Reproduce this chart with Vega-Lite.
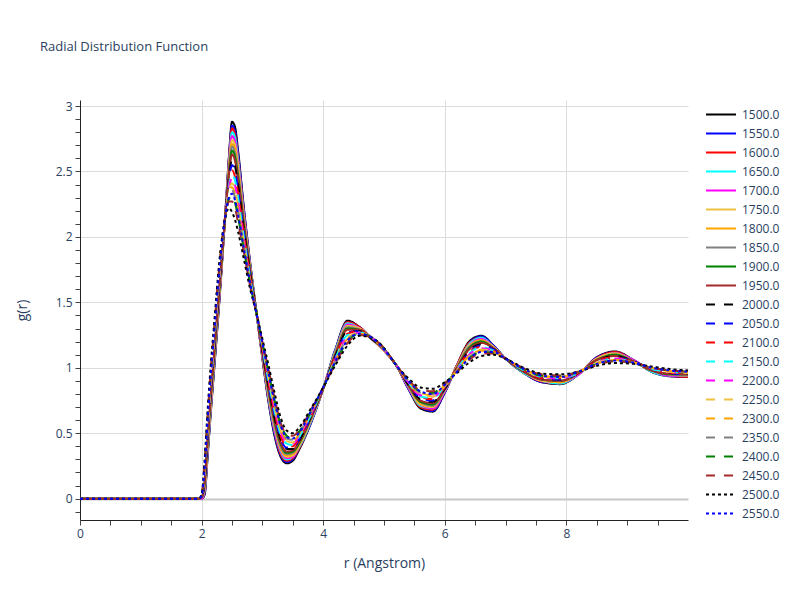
{
"$schema":"https://vega.github.io/schema/vega-lite/v6.json",
"autosize":{"type":"none"},
"width":608,"height":420,
"padding":{"left":80,"top":100,"right":112,"bottom":80},
"background":"white",
"config":{"view":{"stroke":null},"font":"Open Sans","axis":{"labelOverlap":false,"labelFlush":false}},
"title":{"text":"Radial Distribution Function","anchor":"start","frame":"group","dx":-40,"offset":36,"baseline":"alphabetic","fontSize":13,"fontWeight":"normal","color":"#2a3f5f","font":"Open Sans"},
"data":{"values":[
{"T":"1500.0","r":0,"g":0},{"T":"1500.0","r":1.95,"g":0},{"T":"1500.0","r":2,"g":0},{"T":"1500.0","r":2.05,"g":0.03},{"T":"1500.0","r":2.1,"g":0.33},{"T":"1500.0","r":2.15,"g":0.65},{"T":"1500.0","r":2.2,"g":0.95},{"T":"1500.0","r":2.3,"g":1.56},{"T":"1500.0","r":2.4,"g":2.25},{"T":"1500.0","r":2.45,"g":2.62},{"T":"1500.0","r":2.5,"g":2.88},{"T":"1500.0","r":2.55,"g":2.84},{"T":"1500.0","r":2.6,"g":2.66},{"T":"1500.0","r":2.7,"g":2.2},{"T":"1500.0","r":2.8,"g":1.8},{"T":"1500.0","r":2.9,"g":1.43},{"T":"1500.0","r":3,"g":1.07},{"T":"1500.0","r":3.1,"g":0.74},{"T":"1500.0","r":3.2,"g":0.48},{"T":"1500.0","r":3.3,"g":0.32},{"T":"1500.0","r":3.4,"g":0.27},{"T":"1500.0","r":3.5,"g":0.29},{"T":"1500.0","r":3.6,"g":0.37},{"T":"1500.0","r":3.8,"g":0.58},{"T":"1500.0","r":4,"g":0.84},{"T":"1500.0","r":4.2,"g":1.14},{"T":"1500.0","r":4.4,"g":1.36},{"T":"1500.0","r":4.6,"g":1.31},{"T":"1500.0","r":4.8,"g":1.22},{"T":"1500.0","r":5,"g":1.13},{"T":"1500.0","r":5.2,"g":1.02},{"T":"1500.0","r":5.4,"g":0.84},{"T":"1500.0","r":5.6,"g":0.69},{"T":"1500.0","r":5.8,"g":0.665},{"T":"1500.0","r":6,"g":0.81},{"T":"1500.0","r":6.2,"g":1.02},{"T":"1500.0","r":6.4,"g":1.2},{"T":"1500.0","r":6.6,"g":1.245},{"T":"1500.0","r":6.8,"g":1.17},{"T":"1500.0","r":7,"g":1.07},{"T":"1500.0","r":7.3,"g":0.96},{"T":"1500.0","r":7.6,"g":0.89},{"T":"1500.0","r":7.9,"g":0.875},{"T":"1500.0","r":8.2,"g":0.95},{"T":"1500.0","r":8.5,"g":1.08},{"T":"1500.0","r":8.8,"g":1.125},{"T":"1500.0","r":9.1,"g":1.06},{"T":"1500.0","r":9.4,"g":0.97},{"T":"1500.0","r":9.7,"g":0.935},{"T":"1500.0","r":10,"g":0.93},
{"T":"1550.0","r":0,"g":0},{"T":"1550.0","r":1.95,"g":0},{"T":"1550.0","r":2,"g":0},{"T":"1550.0","r":2.05,"g":0.04},{"T":"1550.0","r":2.1,"g":0.34},{"T":"1550.0","r":2.15,"g":0.67},{"T":"1550.0","r":2.2,"g":0.96},{"T":"1550.0","r":2.3,"g":1.57},{"T":"1550.0","r":2.4,"g":2.25},{"T":"1550.0","r":2.45,"g":2.6},{"T":"1550.0","r":2.5,"g":2.85},{"T":"1550.0","r":2.55,"g":2.81},{"T":"1550.0","r":2.6,"g":2.64},{"T":"1550.0","r":2.7,"g":2.19},{"T":"1550.0","r":2.8,"g":1.79},{"T":"1550.0","r":2.9,"g":1.43},{"T":"1550.0","r":3,"g":1.08},{"T":"1550.0","r":3.1,"g":0.75},{"T":"1550.0","r":3.2,"g":0.49},{"T":"1550.0","r":3.3,"g":0.33},{"T":"1550.0","r":3.4,"g":0.28},{"T":"1550.0","r":3.5,"g":0.3},{"T":"1550.0","r":3.6,"g":0.38},{"T":"1550.0","r":3.8,"g":0.58},{"T":"1550.0","r":4,"g":0.84},{"T":"1550.0","r":4.2,"g":1.14},{"T":"1550.0","r":4.4,"g":1.35},{"T":"1550.0","r":4.6,"g":1.31},{"T":"1550.0","r":4.8,"g":1.22},{"T":"1550.0","r":5,"g":1.13},{"T":"1550.0","r":5.2,"g":1.02},{"T":"1550.0","r":5.4,"g":0.84},{"T":"1550.0","r":5.6,"g":0.7},{"T":"1550.0","r":5.8,"g":0.67},{"T":"1550.0","r":6,"g":0.81},{"T":"1550.0","r":6.2,"g":1.02},{"T":"1550.0","r":6.4,"g":1.19},{"T":"1550.0","r":6.6,"g":1.24},{"T":"1550.0","r":6.8,"g":1.17},{"T":"1550.0","r":7,"g":1.07},{"T":"1550.0","r":7.3,"g":0.96},{"T":"1550.0","r":7.6,"g":0.89},{"T":"1550.0","r":7.9,"g":0.88},{"T":"1550.0","r":8.2,"g":0.95},{"T":"1550.0","r":8.5,"g":1.08},{"T":"1550.0","r":8.8,"g":1.12},{"T":"1550.0","r":9.1,"g":1.06},{"T":"1550.0","r":9.4,"g":0.97},{"T":"1550.0","r":9.7,"g":0.94},{"T":"1550.0","r":10,"g":0.93},
{"T":"1600.0","r":0,"g":0},{"T":"1600.0","r":1.95,"g":0},{"T":"1600.0","r":2,"g":0},{"T":"1600.0","r":2.05,"g":0.05},{"T":"1600.0","r":2.1,"g":0.36},{"T":"1600.0","r":2.15,"g":0.68},{"T":"1600.0","r":2.2,"g":0.98},{"T":"1600.0","r":2.3,"g":1.58},{"T":"1600.0","r":2.4,"g":2.24},{"T":"1600.0","r":2.45,"g":2.59},{"T":"1600.0","r":2.5,"g":2.83},{"T":"1600.0","r":2.55,"g":2.78},{"T":"1600.0","r":2.6,"g":2.61},{"T":"1600.0","r":2.7,"g":2.17},{"T":"1600.0","r":2.8,"g":1.78},{"T":"1600.0","r":2.9,"g":1.43},{"T":"1600.0","r":3,"g":1.08},{"T":"1600.0","r":3.1,"g":0.76},{"T":"1600.0","r":3.2,"g":0.51},{"T":"1600.0","r":3.3,"g":0.34},{"T":"1600.0","r":3.4,"g":0.29},{"T":"1600.0","r":3.5,"g":0.31},{"T":"1600.0","r":3.6,"g":0.38},{"T":"1600.0","r":3.8,"g":0.59},{"T":"1600.0","r":4,"g":0.84},{"T":"1600.0","r":4.2,"g":1.13},{"T":"1600.0","r":4.4,"g":1.35},{"T":"1600.0","r":4.6,"g":1.31},{"T":"1600.0","r":4.8,"g":1.22},{"T":"1600.0","r":5,"g":1.13},{"T":"1600.0","r":5.2,"g":1.02},{"T":"1600.0","r":5.4,"g":0.85},{"T":"1600.0","r":5.6,"g":0.7},{"T":"1600.0","r":5.8,"g":0.68},{"T":"1600.0","r":6,"g":0.82},{"T":"1600.0","r":6.2,"g":1.02},{"T":"1600.0","r":6.4,"g":1.19},{"T":"1600.0","r":6.6,"g":1.23},{"T":"1600.0","r":6.8,"g":1.16},{"T":"1600.0","r":7,"g":1.07},{"T":"1600.0","r":7.3,"g":0.96},{"T":"1600.0","r":7.6,"g":0.895},{"T":"1600.0","r":7.9,"g":0.88},{"T":"1600.0","r":8.2,"g":0.95},{"T":"1600.0","r":8.5,"g":1.075},{"T":"1600.0","r":8.8,"g":1.12},{"T":"1600.0","r":9.1,"g":1.06},{"T":"1600.0","r":9.4,"g":0.97},{"T":"1600.0","r":9.7,"g":0.94},{"T":"1600.0","r":10,"g":0.93},
{"T":"1650.0","r":0,"g":0},{"T":"1650.0","r":1.95,"g":0},{"T":"1650.0","r":2,"g":0},{"T":"1650.0","r":2.05,"g":0.06},{"T":"1650.0","r":2.1,"g":0.37},{"T":"1650.0","r":2.15,"g":0.69},{"T":"1650.0","r":2.2,"g":0.99},{"T":"1650.0","r":2.3,"g":1.6},{"T":"1650.0","r":2.4,"g":2.24},{"T":"1650.0","r":2.45,"g":2.57},{"T":"1650.0","r":2.5,"g":2.8},{"T":"1650.0","r":2.55,"g":2.76},{"T":"1650.0","r":2.6,"g":2.59},{"T":"1650.0","r":2.7,"g":2.15},{"T":"1650.0","r":2.8,"g":1.78},{"T":"1650.0","r":2.9,"g":1.43},{"T":"1650.0","r":3,"g":1.09},{"T":"1650.0","r":3.1,"g":0.77},{"T":"1650.0","r":3.2,"g":0.52},{"T":"1650.0","r":3.3,"g":0.36},{"T":"1650.0","r":3.4,"g":0.3},{"T":"1650.0","r":3.5,"g":0.32},{"T":"1650.0","r":3.6,"g":0.39},{"T":"1650.0","r":3.8,"g":0.59},{"T":"1650.0","r":4,"g":0.84},{"T":"1650.0","r":4.2,"g":1.13},{"T":"1650.0","r":4.4,"g":1.34},{"T":"1650.0","r":4.6,"g":1.3},{"T":"1650.0","r":4.8,"g":1.22},{"T":"1650.0","r":5,"g":1.13},{"T":"1650.0","r":5.2,"g":1.02},{"T":"1650.0","r":5.4,"g":0.85},{"T":"1650.0","r":5.6,"g":0.71},{"T":"1650.0","r":5.8,"g":0.69},{"T":"1650.0","r":6,"g":0.82},{"T":"1650.0","r":6.2,"g":1.01},{"T":"1650.0","r":6.4,"g":1.18},{"T":"1650.0","r":6.6,"g":1.23},{"T":"1650.0","r":6.8,"g":1.16},{"T":"1650.0","r":7,"g":1.07},{"T":"1650.0","r":7.3,"g":0.96},{"T":"1650.0","r":7.6,"g":0.9},{"T":"1650.0","r":7.9,"g":0.88},{"T":"1650.0","r":8.2,"g":0.95},{"T":"1650.0","r":8.5,"g":1.07},{"T":"1650.0","r":8.8,"g":1.11},{"T":"1650.0","r":9.1,"g":1.06},{"T":"1650.0","r":9.4,"g":0.97},{"T":"1650.0","r":9.7,"g":0.94},{"T":"1650.0","r":10,"g":0.94},
{"T":"1700.0","r":0,"g":0},{"T":"1700.0","r":1.95,"g":0},{"T":"1700.0","r":2,"g":0},{"T":"1700.0","r":2.05,"g":0.07},{"T":"1700.0","r":2.1,"g":0.39},{"T":"1700.0","r":2.15,"g":0.71},{"T":"1700.0","r":2.2,"g":1.01},{"T":"1700.0","r":2.3,"g":1.61},{"T":"1700.0","r":2.4,"g":2.24},{"T":"1700.0","r":2.45,"g":2.56},{"T":"1700.0","r":2.5,"g":2.77},{"T":"1700.0","r":2.55,"g":2.73},{"T":"1700.0","r":2.6,"g":2.56},{"T":"1700.0","r":2.7,"g":2.14},{"T":"1700.0","r":2.8,"g":1.77},{"T":"1700.0","r":2.9,"g":1.43},{"T":"1700.0","r":3,"g":1.09},{"T":"1700.0","r":3.1,"g":0.79},{"T":"1700.0","r":3.2,"g":0.53},{"T":"1700.0","r":3.3,"g":0.37},{"T":"1700.0","r":3.4,"g":0.31},{"T":"1700.0","r":3.5,"g":0.32},{"T":"1700.0","r":3.6,"g":0.4},{"T":"1700.0","r":3.8,"g":0.6},{"T":"1700.0","r":4,"g":0.84},{"T":"1700.0","r":4.2,"g":1.12},{"T":"1700.0","r":4.4,"g":1.33},{"T":"1700.0","r":4.6,"g":1.3},{"T":"1700.0","r":4.8,"g":1.22},{"T":"1700.0","r":5,"g":1.13},{"T":"1700.0","r":5.2,"g":1.02},{"T":"1700.0","r":5.4,"g":0.85},{"T":"1700.0","r":5.6,"g":0.72},{"T":"1700.0","r":5.8,"g":0.69},{"T":"1700.0","r":6,"g":0.82},{"T":"1700.0","r":6.2,"g":1.01},{"T":"1700.0","r":6.4,"g":1.17},{"T":"1700.0","r":6.6,"g":1.22},{"T":"1700.0","r":6.8,"g":1.16},{"T":"1700.0","r":7,"g":1.07},{"T":"1700.0","r":7.3,"g":0.97},{"T":"1700.0","r":7.6,"g":0.9},{"T":"1700.0","r":7.9,"g":0.89},{"T":"1700.0","r":8.2,"g":0.95},{"T":"1700.0","r":8.5,"g":1.07},{"T":"1700.0","r":8.8,"g":1.11},{"T":"1700.0","r":9.1,"g":1.06},{"T":"1700.0","r":9.4,"g":0.98},{"T":"1700.0","r":9.7,"g":0.94},{"T":"1700.0","r":10,"g":0.94},
{"T":"1750.0","r":0,"g":0},{"T":"1750.0","r":1.95,"g":0},{"T":"1750.0","r":2,"g":0.01},{"T":"1750.0","r":2.05,"g":0.08},{"T":"1750.0","r":2.1,"g":0.4},{"T":"1750.0","r":2.15,"g":0.72},{"T":"1750.0","r":2.2,"g":1.02},{"T":"1750.0","r":2.3,"g":1.62},{"T":"1750.0","r":2.4,"g":2.23},{"T":"1750.0","r":2.45,"g":2.54},{"T":"1750.0","r":2.5,"g":2.74},{"T":"1750.0","r":2.55,"g":2.7},{"T":"1750.0","r":2.6,"g":2.54},{"T":"1750.0","r":2.7,"g":2.12},{"T":"1750.0","r":2.8,"g":1.76},{"T":"1750.0","r":2.9,"g":1.43},{"T":"1750.0","r":3,"g":1.1},{"T":"1750.0","r":3.1,"g":0.8},{"T":"1750.0","r":3.2,"g":0.55},{"T":"1750.0","r":3.3,"g":0.38},{"T":"1750.0","r":3.4,"g":0.32},{"T":"1750.0","r":3.5,"g":0.33},{"T":"1750.0","r":3.6,"g":0.4},{"T":"1750.0","r":3.8,"g":0.6},{"T":"1750.0","r":4,"g":0.84},{"T":"1750.0","r":4.2,"g":1.12},{"T":"1750.0","r":4.4,"g":1.32},{"T":"1750.0","r":4.6,"g":1.3},{"T":"1750.0","r":4.8,"g":1.22},{"T":"1750.0","r":5,"g":1.13},{"T":"1750.0","r":5.2,"g":1.02},{"T":"1750.0","r":5.4,"g":0.86},{"T":"1750.0","r":5.6,"g":0.72},{"T":"1750.0","r":5.8,"g":0.7},{"T":"1750.0","r":6,"g":0.83},{"T":"1750.0","r":6.2,"g":1.01},{"T":"1750.0","r":6.4,"g":1.17},{"T":"1750.0","r":6.6,"g":1.21},{"T":"1750.0","r":6.8,"g":1.16},{"T":"1750.0","r":7,"g":1.07},{"T":"1750.0","r":7.3,"g":0.97},{"T":"1750.0","r":7.6,"g":0.9},{"T":"1750.0","r":7.9,"g":0.89},{"T":"1750.0","r":8.2,"g":0.96},{"T":"1750.0","r":8.5,"g":1.07},{"T":"1750.0","r":8.8,"g":1.11},{"T":"1750.0","r":9.1,"g":1.05},{"T":"1750.0","r":9.4,"g":0.98},{"T":"1750.0","r":9.7,"g":0.95},{"T":"1750.0","r":10,"g":0.94},
{"T":"1800.0","r":0,"g":0},{"T":"1800.0","r":1.95,"g":0},{"T":"1800.0","r":2,"g":0.01},{"T":"1800.0","r":2.05,"g":0.1},{"T":"1800.0","r":2.1,"g":0.41},{"T":"1800.0","r":2.15,"g":0.74},{"T":"1800.0","r":2.2,"g":1.03},{"T":"1800.0","r":2.3,"g":1.63},{"T":"1800.0","r":2.4,"g":2.23},{"T":"1800.0","r":2.45,"g":2.52},{"T":"1800.0","r":2.5,"g":2.71},{"T":"1800.0","r":2.55,"g":2.67},{"T":"1800.0","r":2.6,"g":2.51},{"T":"1800.0","r":2.7,"g":2.11},{"T":"1800.0","r":2.8,"g":1.75},{"T":"1800.0","r":2.9,"g":1.43},{"T":"1800.0","r":3,"g":1.11},{"T":"1800.0","r":3.1,"g":0.81},{"T":"1800.0","r":3.2,"g":0.56},{"T":"1800.0","r":3.3,"g":0.39},{"T":"1800.0","r":3.4,"g":0.33},{"T":"1800.0","r":3.5,"g":0.34},{"T":"1800.0","r":3.6,"g":0.41},{"T":"1800.0","r":3.8,"g":0.61},{"T":"1800.0","r":4,"g":0.84},{"T":"1800.0","r":4.2,"g":1.11},{"T":"1800.0","r":4.4,"g":1.31},{"T":"1800.0","r":4.6,"g":1.29},{"T":"1800.0","r":4.8,"g":1.22},{"T":"1800.0","r":5,"g":1.14},{"T":"1800.0","r":5.2,"g":1.02},{"T":"1800.0","r":5.4,"g":0.86},{"T":"1800.0","r":5.6,"g":0.73},{"T":"1800.0","r":5.8,"g":0.71},{"T":"1800.0","r":6,"g":0.83},{"T":"1800.0","r":6.2,"g":1.01},{"T":"1800.0","r":6.4,"g":1.16},{"T":"1800.0","r":6.6,"g":1.21},{"T":"1800.0","r":6.8,"g":1.15},{"T":"1800.0","r":7,"g":1.07},{"T":"1800.0","r":7.3,"g":0.97},{"T":"1800.0","r":7.6,"g":0.91},{"T":"1800.0","r":7.9,"g":0.89},{"T":"1800.0","r":8.2,"g":0.96},{"T":"1800.0","r":8.5,"g":1.06},{"T":"1800.0","r":8.8,"g":1.1},{"T":"1800.0","r":9.1,"g":1.05},{"T":"1800.0","r":9.4,"g":0.98},{"T":"1800.0","r":9.7,"g":0.95},{"T":"1800.0","r":10,"g":0.94},
{"T":"1850.0","r":0,"g":0},{"T":"1850.0","r":1.95,"g":0},{"T":"1850.0","r":2,"g":0.01},{"T":"1850.0","r":2.05,"g":0.11},{"T":"1850.0","r":2.1,"g":0.43},{"T":"1850.0","r":2.15,"g":0.75},{"T":"1850.0","r":2.2,"g":1.05},{"T":"1850.0","r":2.3,"g":1.64},{"T":"1850.0","r":2.4,"g":2.23},{"T":"1850.0","r":2.45,"g":2.51},{"T":"1850.0","r":2.5,"g":2.69},{"T":"1850.0","r":2.55,"g":2.64},{"T":"1850.0","r":2.6,"g":2.49},{"T":"1850.0","r":2.7,"g":2.09},{"T":"1850.0","r":2.8,"g":1.74},{"T":"1850.0","r":2.9,"g":1.43},{"T":"1850.0","r":3,"g":1.11},{"T":"1850.0","r":3.1,"g":0.82},{"T":"1850.0","r":3.2,"g":0.57},{"T":"1850.0","r":3.3,"g":0.4},{"T":"1850.0","r":3.4,"g":0.34},{"T":"1850.0","r":3.5,"g":0.35},{"T":"1850.0","r":3.6,"g":0.42},{"T":"1850.0","r":3.8,"g":0.61},{"T":"1850.0","r":4,"g":0.84},{"T":"1850.0","r":4.2,"g":1.11},{"T":"1850.0","r":4.4,"g":1.31},{"T":"1850.0","r":4.6,"g":1.29},{"T":"1850.0","r":4.8,"g":1.22},{"T":"1850.0","r":5,"g":1.14},{"T":"1850.0","r":5.2,"g":1.02},{"T":"1850.0","r":5.4,"g":0.86},{"T":"1850.0","r":5.6,"g":0.74},{"T":"1850.0","r":5.8,"g":0.71},{"T":"1850.0","r":6,"g":0.83},{"T":"1850.0","r":6.2,"g":1},{"T":"1850.0","r":6.4,"g":1.16},{"T":"1850.0","r":6.6,"g":1.2},{"T":"1850.0","r":6.8,"g":1.15},{"T":"1850.0","r":7,"g":1.07},{"T":"1850.0","r":7.3,"g":0.97},{"T":"1850.0","r":7.6,"g":0.91},{"T":"1850.0","r":7.9,"g":0.9},{"T":"1850.0","r":8.2,"g":0.96},{"T":"1850.0","r":8.5,"g":1.06},{"T":"1850.0","r":8.8,"g":1.1},{"T":"1850.0","r":9.1,"g":1.05},{"T":"1850.0","r":9.4,"g":0.98},{"T":"1850.0","r":9.7,"g":0.95},{"T":"1850.0","r":10,"g":0.94},
{"T":"1900.0","r":0,"g":0},{"T":"1900.0","r":1.95,"g":0},{"T":"1900.0","r":2,"g":0.01},{"T":"1900.0","r":2.05,"g":0.12},{"T":"1900.0","r":2.1,"g":0.44},{"T":"1900.0","r":2.15,"g":0.77},{"T":"1900.0","r":2.2,"g":1.06},{"T":"1900.0","r":2.3,"g":1.65},{"T":"1900.0","r":2.4,"g":2.22},{"T":"1900.0","r":2.45,"g":2.49},{"T":"1900.0","r":2.5,"g":2.66},{"T":"1900.0","r":2.55,"g":2.61},{"T":"1900.0","r":2.6,"g":2.46},{"T":"1900.0","r":2.7,"g":2.08},{"T":"1900.0","r":2.8,"g":1.74},{"T":"1900.0","r":2.9,"g":1.43},{"T":"1900.0","r":3,"g":1.12},{"T":"1900.0","r":3.1,"g":0.83},{"T":"1900.0","r":3.2,"g":0.59},{"T":"1900.0","r":3.3,"g":0.42},{"T":"1900.0","r":3.4,"g":0.35},{"T":"1900.0","r":3.5,"g":0.36},{"T":"1900.0","r":3.6,"g":0.42},{"T":"1900.0","r":3.8,"g":0.62},{"T":"1900.0","r":4,"g":0.84},{"T":"1900.0","r":4.2,"g":1.1},{"T":"1900.0","r":4.4,"g":1.3},{"T":"1900.0","r":4.6,"g":1.29},{"T":"1900.0","r":4.8,"g":1.22},{"T":"1900.0","r":5,"g":1.14},{"T":"1900.0","r":5.2,"g":1.02},{"T":"1900.0","r":5.4,"g":0.87},{"T":"1900.0","r":5.6,"g":0.74},{"T":"1900.0","r":5.8,"g":0.72},{"T":"1900.0","r":6,"g":0.84},{"T":"1900.0","r":6.2,"g":1},{"T":"1900.0","r":6.4,"g":1.15},{"T":"1900.0","r":6.6,"g":1.2},{"T":"1900.0","r":6.8,"g":1.15},{"T":"1900.0","r":7,"g":1.07},{"T":"1900.0","r":7.3,"g":0.97},{"T":"1900.0","r":7.6,"g":0.91},{"T":"1900.0","r":7.9,"g":0.9},{"T":"1900.0","r":8.2,"g":0.96},{"T":"1900.0","r":8.5,"g":1.06},{"T":"1900.0","r":8.8,"g":1.1},{"T":"1900.0","r":9.1,"g":1.05},{"T":"1900.0","r":9.4,"g":0.98},{"T":"1900.0","r":9.7,"g":0.95},{"T":"1900.0","r":10,"g":0.95},
{"T":"1950.0","r":0,"g":0},{"T":"1950.0","r":1.95,"g":0},{"T":"1950.0","r":2,"g":0.01},{"T":"1950.0","r":2.05,"g":0.13},{"T":"1950.0","r":2.1,"g":0.46},{"T":"1950.0","r":2.15,"g":0.78},{"T":"1950.0","r":2.2,"g":1.08},{"T":"1950.0","r":2.3,"g":1.66},{"T":"1950.0","r":2.4,"g":2.22},{"T":"1950.0","r":2.45,"g":2.48},{"T":"1950.0","r":2.5,"g":2.63},{"T":"1950.0","r":2.55,"g":2.58},{"T":"1950.0","r":2.6,"g":2.44},{"T":"1950.0","r":2.7,"g":2.06},{"T":"1950.0","r":2.8,"g":1.73},{"T":"1950.0","r":2.9,"g":1.43},{"T":"1950.0","r":3,"g":1.12},{"T":"1950.0","r":3.1,"g":0.84},{"T":"1950.0","r":3.2,"g":0.6},{"T":"1950.0","r":3.3,"g":0.43},{"T":"1950.0","r":3.4,"g":0.36},{"T":"1950.0","r":3.5,"g":0.37},{"T":"1950.0","r":3.6,"g":0.43},{"T":"1950.0","r":3.8,"g":0.62},{"T":"1950.0","r":4,"g":0.84},{"T":"1950.0","r":4.2,"g":1.1},{"T":"1950.0","r":4.4,"g":1.29},{"T":"1950.0","r":4.6,"g":1.29},{"T":"1950.0","r":4.8,"g":1.22},{"T":"1950.0","r":5,"g":1.14},{"T":"1950.0","r":5.2,"g":1.02},{"T":"1950.0","r":5.4,"g":0.87},{"T":"1950.0","r":5.6,"g":0.75},{"T":"1950.0","r":5.8,"g":0.73},{"T":"1950.0","r":6,"g":0.84},{"T":"1950.0","r":6.2,"g":1},{"T":"1950.0","r":6.4,"g":1.14},{"T":"1950.0","r":6.6,"g":1.19},{"T":"1950.0","r":6.8,"g":1.15},{"T":"1950.0","r":7,"g":1.07},{"T":"1950.0","r":7.3,"g":0.97},{"T":"1950.0","r":7.6,"g":0.91},{"T":"1950.0","r":7.9,"g":0.9},{"T":"1950.0","r":8.2,"g":0.96},{"T":"1950.0","r":8.5,"g":1.06},{"T":"1950.0","r":8.8,"g":1.09},{"T":"1950.0","r":9.1,"g":1.05},{"T":"1950.0","r":9.4,"g":0.98},{"T":"1950.0","r":9.7,"g":0.955},{"T":"1950.0","r":10,"g":0.95},
{"T":"2000.0","r":0,"g":0},{"T":"2000.0","r":1.95,"g":0},{"T":"2000.0","r":2,"g":0.01},{"T":"2000.0","r":2.05,"g":0.14},{"T":"2000.0","r":2.1,"g":0.48},{"T":"2000.0","r":2.15,"g":0.81},{"T":"2000.0","r":2.2,"g":1.1},{"T":"2000.0","r":2.3,"g":1.68},{"T":"2000.0","r":2.4,"g":2.22},{"T":"2000.0","r":2.45,"g":2.45},{"T":"2000.0","r":2.5,"g":2.59},{"T":"2000.0","r":2.55,"g":2.54},{"T":"2000.0","r":2.6,"g":2.4},{"T":"2000.0","r":2.7,"g":2.04},{"T":"2000.0","r":2.8,"g":1.72},{"T":"2000.0","r":2.9,"g":1.43},{"T":"2000.0","r":3,"g":1.13},{"T":"2000.0","r":3.1,"g":0.86},{"T":"2000.0","r":3.2,"g":0.62},{"T":"2000.0","r":3.3,"g":0.45},{"T":"2000.0","r":3.4,"g":0.38},{"T":"2000.0","r":3.5,"g":0.38},{"T":"2000.0","r":3.6,"g":0.44},{"T":"2000.0","r":3.8,"g":0.63},{"T":"2000.0","r":4,"g":0.85},{"T":"2000.0","r":4.2,"g":1.09},{"T":"2000.0","r":4.4,"g":1.28},{"T":"2000.0","r":4.6,"g":1.28},{"T":"2000.0","r":4.8,"g":1.22},{"T":"2000.0","r":5,"g":1.14},{"T":"2000.0","r":5.2,"g":1.02},{"T":"2000.0","r":5.4,"g":0.87},{"T":"2000.0","r":5.6,"g":0.76},{"T":"2000.0","r":5.8,"g":0.74},{"T":"2000.0","r":6,"g":0.84},{"T":"2000.0","r":6.2,"g":0.99},{"T":"2000.0","r":6.4,"g":1.13},{"T":"2000.0","r":6.6,"g":1.18},{"T":"2000.0","r":6.8,"g":1.14},{"T":"2000.0","r":7,"g":1.07},{"T":"2000.0","r":7.3,"g":0.98},{"T":"2000.0","r":7.6,"g":0.92},{"T":"2000.0","r":7.9,"g":0.91},{"T":"2000.0","r":8.2,"g":0.96},{"T":"2000.0","r":8.5,"g":1.05},{"T":"2000.0","r":8.8,"g":1.09},{"T":"2000.0","r":9.1,"g":1.05},{"T":"2000.0","r":9.4,"g":0.99},{"T":"2000.0","r":9.7,"g":0.96},{"T":"2000.0","r":10,"g":0.95},
{"T":"2050.0","r":0,"g":0},{"T":"2050.0","r":1.95,"g":0},{"T":"2050.0","r":2,"g":0.01},{"T":"2050.0","r":2.05,"g":0.16},{"T":"2050.0","r":2.1,"g":0.5},{"T":"2050.0","r":2.15,"g":0.83},{"T":"2050.0","r":2.2,"g":1.12},{"T":"2050.0","r":2.3,"g":1.7},{"T":"2050.0","r":2.4,"g":2.21},{"T":"2050.0","r":2.45,"g":2.43},{"T":"2050.0","r":2.5,"g":2.55},{"T":"2050.0","r":2.55,"g":2.5},{"T":"2050.0","r":2.6,"g":2.36},{"T":"2050.0","r":2.7,"g":2.02},{"T":"2050.0","r":2.8,"g":1.7},{"T":"2050.0","r":2.9,"g":1.43},{"T":"2050.0","r":3,"g":1.14},{"T":"2050.0","r":3.1,"g":0.87},{"T":"2050.0","r":3.2,"g":0.64},{"T":"2050.0","r":3.3,"g":0.46},{"T":"2050.0","r":3.4,"g":0.39},{"T":"2050.0","r":3.5,"g":0.39},{"T":"2050.0","r":3.6,"g":0.45},{"T":"2050.0","r":3.8,"g":0.63},{"T":"2050.0","r":4,"g":0.85},{"T":"2050.0","r":4.2,"g":1.08},{"T":"2050.0","r":4.4,"g":1.27},{"T":"2050.0","r":4.6,"g":1.28},{"T":"2050.0","r":4.8,"g":1.23},{"T":"2050.0","r":5,"g":1.14},{"T":"2050.0","r":5.2,"g":1.02},{"T":"2050.0","r":5.4,"g":0.88},{"T":"2050.0","r":5.6,"g":0.77},{"T":"2050.0","r":5.8,"g":0.75},{"T":"2050.0","r":6,"g":0.85},{"T":"2050.0","r":6.2,"g":0.99},{"T":"2050.0","r":6.4,"g":1.12},{"T":"2050.0","r":6.6,"g":1.17},{"T":"2050.0","r":6.8,"g":1.14},{"T":"2050.0","r":7,"g":1.07},{"T":"2050.0","r":7.3,"g":0.98},{"T":"2050.0","r":7.6,"g":0.92},{"T":"2050.0","r":7.9,"g":0.91},{"T":"2050.0","r":8.2,"g":0.96},{"T":"2050.0","r":8.5,"g":1.05},{"T":"2050.0","r":8.8,"g":1.08},{"T":"2050.0","r":9.1,"g":1.05},{"T":"2050.0","r":9.4,"g":0.99},{"T":"2050.0","r":9.7,"g":0.96},{"T":"2050.0","r":10,"g":0.95},
{"T":"2100.0","r":0,"g":0},{"T":"2100.0","r":1.95,"g":0},{"T":"2100.0","r":2,"g":0.02},{"T":"2100.0","r":2.05,"g":0.17},{"T":"2100.0","r":2.1,"g":0.52},{"T":"2100.0","r":2.15,"g":0.85},{"T":"2100.0","r":2.2,"g":1.14},{"T":"2100.0","r":2.3,"g":1.71},{"T":"2100.0","r":2.4,"g":2.21},{"T":"2100.0","r":2.45,"g":2.41},{"T":"2100.0","r":2.5,"g":2.51},{"T":"2100.0","r":2.55,"g":2.46},{"T":"2100.0","r":2.6,"g":2.33},{"T":"2100.0","r":2.7,"g":2},{"T":"2100.0","r":2.8,"g":1.69},{"T":"2100.0","r":2.9,"g":1.42},{"T":"2100.0","r":3,"g":1.15},{"T":"2100.0","r":3.1,"g":0.89},{"T":"2100.0","r":3.2,"g":0.66},{"T":"2100.0","r":3.3,"g":0.48},{"T":"2100.0","r":3.4,"g":0.4},{"T":"2100.0","r":3.5,"g":0.4},{"T":"2100.0","r":3.6,"g":0.46},{"T":"2100.0","r":3.8,"g":0.64},{"T":"2100.0","r":4,"g":0.85},{"T":"2100.0","r":4.2,"g":1.08},{"T":"2100.0","r":4.4,"g":1.26},{"T":"2100.0","r":4.6,"g":1.28},{"T":"2100.0","r":4.8,"g":1.23},{"T":"2100.0","r":5,"g":1.14},{"T":"2100.0","r":5.2,"g":1.02},{"T":"2100.0","r":5.4,"g":0.88},{"T":"2100.0","r":5.6,"g":0.78},{"T":"2100.0","r":5.8,"g":0.76},{"T":"2100.0","r":6,"g":0.85},{"T":"2100.0","r":6.2,"g":0.99},{"T":"2100.0","r":6.4,"g":1.12},{"T":"2100.0","r":6.6,"g":1.16},{"T":"2100.0","r":6.8,"g":1.13},{"T":"2100.0","r":7,"g":1.07},{"T":"2100.0","r":7.3,"g":0.98},{"T":"2100.0","r":7.6,"g":0.92},{"T":"2100.0","r":7.9,"g":0.92},{"T":"2100.0","r":8.2,"g":0.96},{"T":"2100.0","r":8.5,"g":1.05},{"T":"2100.0","r":8.8,"g":1.08},{"T":"2100.0","r":9.1,"g":1.04},{"T":"2100.0","r":9.4,"g":0.99},{"T":"2100.0","r":9.7,"g":0.96},{"T":"2100.0","r":10,"g":0.96},
{"T":"2150.0","r":0,"g":0},{"T":"2150.0","r":1.95,"g":0},{"T":"2150.0","r":2,"g":0.02},{"T":"2150.0","r":2.05,"g":0.19},{"T":"2150.0","r":2.1,"g":0.53},{"T":"2150.0","r":2.15,"g":0.87},{"T":"2150.0","r":2.2,"g":1.15},{"T":"2150.0","r":2.3,"g":1.73},{"T":"2150.0","r":2.4,"g":2.2},{"T":"2150.0","r":2.45,"g":2.39},{"T":"2150.0","r":2.5,"g":2.48},{"T":"2150.0","r":2.55,"g":2.43},{"T":"2150.0","r":2.6,"g":2.3},{"T":"2150.0","r":2.7,"g":1.98},{"T":"2150.0","r":2.8,"g":1.68},{"T":"2150.0","r":2.9,"g":1.42},{"T":"2150.0","r":3,"g":1.16},{"T":"2150.0","r":3.1,"g":0.9},{"T":"2150.0","r":3.2,"g":0.67},{"T":"2150.0","r":3.3,"g":0.49},{"T":"2150.0","r":3.4,"g":0.42},{"T":"2150.0","r":3.5,"g":0.41},{"T":"2150.0","r":3.6,"g":0.47},{"T":"2150.0","r":3.8,"g":0.64},{"T":"2150.0","r":4,"g":0.85},{"T":"2150.0","r":4.2,"g":1.07},{"T":"2150.0","r":4.4,"g":1.25},{"T":"2150.0","r":4.6,"g":1.27},{"T":"2150.0","r":4.8,"g":1.23},{"T":"2150.0","r":5,"g":1.14},{"T":"2150.0","r":5.2,"g":1.02},{"T":"2150.0","r":5.4,"g":0.89},{"T":"2150.0","r":5.6,"g":0.78},{"T":"2150.0","r":5.8,"g":0.77},{"T":"2150.0","r":6,"g":0.86},{"T":"2150.0","r":6.2,"g":0.99},{"T":"2150.0","r":6.4,"g":1.11},{"T":"2150.0","r":6.6,"g":1.16},{"T":"2150.0","r":6.8,"g":1.13},{"T":"2150.0","r":7,"g":1.07},{"T":"2150.0","r":7.3,"g":0.98},{"T":"2150.0","r":7.6,"g":0.93},{"T":"2150.0","r":7.9,"g":0.92},{"T":"2150.0","r":8.2,"g":0.96},{"T":"2150.0","r":8.5,"g":1.04},{"T":"2150.0","r":8.8,"g":1.07},{"T":"2150.0","r":9.1,"g":1.04},{"T":"2150.0","r":9.4,"g":0.99},{"T":"2150.0","r":9.7,"g":0.97},{"T":"2150.0","r":10,"g":0.96},
{"T":"2200.0","r":0,"g":0},{"T":"2200.0","r":1.95,"g":0},{"T":"2200.0","r":2,"g":0.02},{"T":"2200.0","r":2.05,"g":0.2},{"T":"2200.0","r":2.1,"g":0.55},{"T":"2200.0","r":2.15,"g":0.88},{"T":"2200.0","r":2.2,"g":1.17},{"T":"2200.0","r":2.3,"g":1.74},{"T":"2200.0","r":2.4,"g":2.2},{"T":"2200.0","r":2.45,"g":2.37},{"T":"2200.0","r":2.5,"g":2.45},{"T":"2200.0","r":2.55,"g":2.39},{"T":"2200.0","r":2.6,"g":2.27},{"T":"2200.0","r":2.7,"g":1.96},{"T":"2200.0","r":2.8,"g":1.67},{"T":"2200.0","r":2.9,"g":1.42},{"T":"2200.0","r":3,"g":1.17},{"T":"2200.0","r":3.1,"g":0.92},{"T":"2200.0","r":3.2,"g":0.69},{"T":"2200.0","r":3.3,"g":0.51},{"T":"2200.0","r":3.4,"g":0.43},{"T":"2200.0","r":3.5,"g":0.42},{"T":"2200.0","r":3.6,"g":0.48},{"T":"2200.0","r":3.8,"g":0.65},{"T":"2200.0","r":4,"g":0.85},{"T":"2200.0","r":4.2,"g":1.06},{"T":"2200.0","r":4.4,"g":1.24},{"T":"2200.0","r":4.6,"g":1.27},{"T":"2200.0","r":4.8,"g":1.23},{"T":"2200.0","r":5,"g":1.14},{"T":"2200.0","r":5.2,"g":1.02},{"T":"2200.0","r":5.4,"g":0.89},{"T":"2200.0","r":5.6,"g":0.79},{"T":"2200.0","r":5.8,"g":0.78},{"T":"2200.0","r":6,"g":0.86},{"T":"2200.0","r":6.2,"g":0.98},{"T":"2200.0","r":6.4,"g":1.1},{"T":"2200.0","r":6.6,"g":1.15},{"T":"2200.0","r":6.8,"g":1.13},{"T":"2200.0","r":7,"g":1.07},{"T":"2200.0","r":7.3,"g":0.99},{"T":"2200.0","r":7.6,"g":0.93},{"T":"2200.0","r":7.9,"g":0.92},{"T":"2200.0","r":8.2,"g":0.97},{"T":"2200.0","r":8.5,"g":1.04},{"T":"2200.0","r":8.8,"g":1.07},{"T":"2200.0","r":9.1,"g":1.04},{"T":"2200.0","r":9.4,"g":1},{"T":"2200.0","r":9.7,"g":0.97},{"T":"2200.0","r":10,"g":0.96},
{"T":"2250.0","r":0,"g":0},{"T":"2250.0","r":1.95,"g":0},{"T":"2250.0","r":2,"g":0.02},{"T":"2250.0","r":2.05,"g":0.21},{"T":"2250.0","r":2.1,"g":0.57},{"T":"2250.0","r":2.15,"g":0.9},{"T":"2250.0","r":2.2,"g":1.19},{"T":"2250.0","r":2.3,"g":1.76},{"T":"2250.0","r":2.4,"g":2.2},{"T":"2250.0","r":2.45,"g":2.35},{"T":"2250.0","r":2.5,"g":2.41},{"T":"2250.0","r":2.55,"g":2.36},{"T":"2250.0","r":2.6,"g":2.24},{"T":"2250.0","r":2.7,"g":1.94},{"T":"2250.0","r":2.8,"g":1.66},{"T":"2250.0","r":2.9,"g":1.42},{"T":"2250.0","r":3,"g":1.17},{"T":"2250.0","r":3.1,"g":0.93},{"T":"2250.0","r":3.2,"g":0.7},{"T":"2250.0","r":3.3,"g":0.52},{"T":"2250.0","r":3.4,"g":0.44},{"T":"2250.0","r":3.5,"g":0.43},{"T":"2250.0","r":3.6,"g":0.49},{"T":"2250.0","r":3.8,"g":0.66},{"T":"2250.0","r":4,"g":0.85},{"T":"2250.0","r":4.2,"g":1.06},{"T":"2250.0","r":4.4,"g":1.23},{"T":"2250.0","r":4.6,"g":1.27},{"T":"2250.0","r":4.8,"g":1.23},{"T":"2250.0","r":5,"g":1.14},{"T":"2250.0","r":5.2,"g":1.02},{"T":"2250.0","r":5.4,"g":0.89},{"T":"2250.0","r":5.6,"g":0.8},{"T":"2250.0","r":5.8,"g":0.78},{"T":"2250.0","r":6,"g":0.86},{"T":"2250.0","r":6.2,"g":0.98},{"T":"2250.0","r":6.4,"g":1.09},{"T":"2250.0","r":6.6,"g":1.14},{"T":"2250.0","r":6.8,"g":1.12},{"T":"2250.0","r":7,"g":1.07},{"T":"2250.0","r":7.3,"g":0.99},{"T":"2250.0","r":7.6,"g":0.93},{"T":"2250.0","r":7.9,"g":0.93},{"T":"2250.0","r":8.2,"g":0.97},{"T":"2250.0","r":8.5,"g":1.04},{"T":"2250.0","r":8.8,"g":1.06},{"T":"2250.0","r":9.1,"g":1.04},{"T":"2250.0","r":9.4,"g":1},{"T":"2250.0","r":9.7,"g":0.97},{"T":"2250.0","r":10,"g":0.96},
{"T":"2300.0","r":0,"g":0},{"T":"2300.0","r":1.95,"g":0},{"T":"2300.0","r":2,"g":0.02},{"T":"2300.0","r":2.05,"g":0.22},{"T":"2300.0","r":2.1,"g":0.58},{"T":"2300.0","r":2.15,"g":0.92},{"T":"2300.0","r":2.2,"g":1.2},{"T":"2300.0","r":2.3,"g":1.77},{"T":"2300.0","r":2.4,"g":2.19},{"T":"2300.0","r":2.45,"g":2.33},{"T":"2300.0","r":2.5,"g":2.38},{"T":"2300.0","r":2.55,"g":2.33},{"T":"2300.0","r":2.6,"g":2.21},{"T":"2300.0","r":2.7,"g":1.93},{"T":"2300.0","r":2.8,"g":1.66},{"T":"2300.0","r":2.9,"g":1.42},{"T":"2300.0","r":3,"g":1.18},{"T":"2300.0","r":3.1,"g":0.94},{"T":"2300.0","r":3.2,"g":0.72},{"T":"2300.0","r":3.3,"g":0.54},{"T":"2300.0","r":3.4,"g":0.45},{"T":"2300.0","r":3.5,"g":0.44},{"T":"2300.0","r":3.6,"g":0.49},{"T":"2300.0","r":3.8,"g":0.66},{"T":"2300.0","r":4,"g":0.85},{"T":"2300.0","r":4.2,"g":1.05},{"T":"2300.0","r":4.4,"g":1.22},{"T":"2300.0","r":4.6,"g":1.26},{"T":"2300.0","r":4.8,"g":1.23},{"T":"2300.0","r":5,"g":1.14},{"T":"2300.0","r":5.2,"g":1.02},{"T":"2300.0","r":5.4,"g":0.9},{"T":"2300.0","r":5.6,"g":0.81},{"T":"2300.0","r":5.8,"g":0.79},{"T":"2300.0","r":6,"g":0.87},{"T":"2300.0","r":6.2,"g":0.98},{"T":"2300.0","r":6.4,"g":1.09},{"T":"2300.0","r":6.6,"g":1.13},{"T":"2300.0","r":6.8,"g":1.12},{"T":"2300.0","r":7,"g":1.07},{"T":"2300.0","r":7.3,"g":0.99},{"T":"2300.0","r":7.6,"g":0.94},{"T":"2300.0","r":7.9,"g":0.93},{"T":"2300.0","r":8.2,"g":0.97},{"T":"2300.0","r":8.5,"g":1.03},{"T":"2300.0","r":8.8,"g":1.06},{"T":"2300.0","r":9.1,"g":1.04},{"T":"2300.0","r":9.4,"g":1},{"T":"2300.0","r":9.7,"g":0.975},{"T":"2300.0","r":10,"g":0.97},
{"T":"2350.0","r":0,"g":0},{"T":"2350.0","r":1.95,"g":0},{"T":"2350.0","r":2,"g":0.02},{"T":"2350.0","r":2.05,"g":0.24},{"T":"2350.0","r":2.1,"g":0.6},{"T":"2350.0","r":2.15,"g":0.93},{"T":"2350.0","r":2.2,"g":1.22},{"T":"2350.0","r":2.3,"g":1.78},{"T":"2350.0","r":2.4,"g":2.19},{"T":"2350.0","r":2.45,"g":2.32},{"T":"2350.0","r":2.5,"g":2.36},{"T":"2350.0","r":2.55,"g":2.3},{"T":"2350.0","r":2.6,"g":2.19},{"T":"2350.0","r":2.7,"g":1.91},{"T":"2350.0","r":2.8,"g":1.65},{"T":"2350.0","r":2.9,"g":1.42},{"T":"2350.0","r":3,"g":1.18},{"T":"2350.0","r":3.1,"g":0.95},{"T":"2350.0","r":3.2,"g":0.73},{"T":"2350.0","r":3.3,"g":0.55},{"T":"2350.0","r":3.4,"g":0.46},{"T":"2350.0","r":3.5,"g":0.45},{"T":"2350.0","r":3.6,"g":0.5},{"T":"2350.0","r":3.8,"g":0.66},{"T":"2350.0","r":4,"g":0.85},{"T":"2350.0","r":4.2,"g":1.05},{"T":"2350.0","r":4.4,"g":1.22},{"T":"2350.0","r":4.6,"g":1.26},{"T":"2350.0","r":4.8,"g":1.23},{"T":"2350.0","r":5,"g":1.14},{"T":"2350.0","r":5.2,"g":1.02},{"T":"2350.0","r":5.4,"g":0.9},{"T":"2350.0","r":5.6,"g":0.81},{"T":"2350.0","r":5.8,"g":0.8},{"T":"2350.0","r":6,"g":0.87},{"T":"2350.0","r":6.2,"g":0.97},{"T":"2350.0","r":6.4,"g":1.08},{"T":"2350.0","r":6.6,"g":1.13},{"T":"2350.0","r":6.8,"g":1.12},{"T":"2350.0","r":7,"g":1.07},{"T":"2350.0","r":7.3,"g":0.99},{"T":"2350.0","r":7.6,"g":0.94},{"T":"2350.0","r":7.9,"g":0.93},{"T":"2350.0","r":8.2,"g":0.97},{"T":"2350.0","r":8.5,"g":1.03},{"T":"2350.0","r":8.8,"g":1.06},{"T":"2350.0","r":9.1,"g":1.04},{"T":"2350.0","r":9.4,"g":1},{"T":"2350.0","r":9.7,"g":0.98},{"T":"2350.0","r":10,"g":0.97},
{"T":"2400.0","r":0,"g":0},{"T":"2400.0","r":1.95,"g":0},{"T":"2400.0","r":2,"g":0.02},{"T":"2400.0","r":2.05,"g":0.25},{"T":"2400.0","r":2.1,"g":0.62},{"T":"2400.0","r":2.15,"g":0.95},{"T":"2400.0","r":2.2,"g":1.24},{"T":"2400.0","r":2.3,"g":1.8},{"T":"2400.0","r":2.4,"g":2.18},{"T":"2400.0","r":2.45,"g":2.29},{"T":"2400.0","r":2.5,"g":2.31},{"T":"2400.0","r":2.55,"g":2.26},{"T":"2400.0","r":2.6,"g":2.15},{"T":"2400.0","r":2.7,"g":1.89},{"T":"2400.0","r":2.8,"g":1.64},{"T":"2400.0","r":2.9,"g":1.42},{"T":"2400.0","r":3,"g":1.19},{"T":"2400.0","r":3.1,"g":0.97},{"T":"2400.0","r":3.2,"g":0.75},{"T":"2400.0","r":3.3,"g":0.57},{"T":"2400.0","r":3.4,"g":0.48},{"T":"2400.0","r":3.5,"g":0.46},{"T":"2400.0","r":3.6,"g":0.51},{"T":"2400.0","r":3.8,"g":0.67},{"T":"2400.0","r":4,"g":0.85},{"T":"2400.0","r":4.2,"g":1.04},{"T":"2400.0","r":4.4,"g":1.2},{"T":"2400.0","r":4.6,"g":1.26},{"T":"2400.0","r":4.8,"g":1.23},{"T":"2400.0","r":5,"g":1.15},{"T":"2400.0","r":5.2,"g":1.02},{"T":"2400.0","r":5.4,"g":0.91},{"T":"2400.0","r":5.6,"g":0.82},{"T":"2400.0","r":5.8,"g":0.81},{"T":"2400.0","r":6,"g":0.88},{"T":"2400.0","r":6.2,"g":0.97},{"T":"2400.0","r":6.4,"g":1.07},{"T":"2400.0","r":6.6,"g":1.12},{"T":"2400.0","r":6.8,"g":1.11},{"T":"2400.0","r":7,"g":1.07},{"T":"2400.0","r":7.3,"g":0.99},{"T":"2400.0","r":7.6,"g":0.94},{"T":"2400.0","r":7.9,"g":0.94},{"T":"2400.0","r":8.2,"g":0.97},{"T":"2400.0","r":8.5,"g":1.03},{"T":"2400.0","r":8.8,"g":1.05},{"T":"2400.0","r":9.1,"g":1.04},{"T":"2400.0","r":9.4,"g":1},{"T":"2400.0","r":9.7,"g":0.98},{"T":"2400.0","r":10,"g":0.97},
{"T":"2450.0","r":0,"g":0},{"T":"2450.0","r":1.95,"g":0},{"T":"2450.0","r":2,"g":0.03},{"T":"2450.0","r":2.05,"g":0.27},{"T":"2450.0","r":2.1,"g":0.64},{"T":"2450.0","r":2.15,"g":0.98},{"T":"2450.0","r":2.2,"g":1.26},{"T":"2450.0","r":2.3,"g":1.82},{"T":"2450.0","r":2.4,"g":2.18},{"T":"2450.0","r":2.45,"g":2.27},{"T":"2450.0","r":2.5,"g":2.27},{"T":"2450.0","r":2.55,"g":2.22},{"T":"2450.0","r":2.6,"g":2.11},{"T":"2450.0","r":2.7,"g":1.87},{"T":"2450.0","r":2.8,"g":1.62},{"T":"2450.0","r":2.9,"g":1.42},{"T":"2450.0","r":3,"g":1.2},{"T":"2450.0","r":3.1,"g":0.99},{"T":"2450.0","r":3.2,"g":0.77},{"T":"2450.0","r":3.3,"g":0.58},{"T":"2450.0","r":3.4,"g":0.49},{"T":"2450.0","r":3.5,"g":0.48},{"T":"2450.0","r":3.6,"g":0.52},{"T":"2450.0","r":3.8,"g":0.68},{"T":"2450.0","r":4,"g":0.85},{"T":"2450.0","r":4.2,"g":1.03},{"T":"2450.0","r":4.4,"g":1.19},{"T":"2450.0","r":4.6,"g":1.25},{"T":"2450.0","r":4.8,"g":1.23},{"T":"2450.0","r":5,"g":1.15},{"T":"2450.0","r":5.2,"g":1.02},{"T":"2450.0","r":5.4,"g":0.91},{"T":"2450.0","r":5.6,"g":0.83},{"T":"2450.0","r":5.8,"g":0.82},{"T":"2450.0","r":6,"g":0.88},{"T":"2450.0","r":6.2,"g":0.97},{"T":"2450.0","r":6.4,"g":1.06},{"T":"2450.0","r":6.6,"g":1.11},{"T":"2450.0","r":6.8,"g":1.11},{"T":"2450.0","r":7,"g":1.07},{"T":"2450.0","r":7.3,"g":0.995},{"T":"2450.0","r":7.6,"g":0.95},{"T":"2450.0","r":7.9,"g":0.94},{"T":"2450.0","r":8.2,"g":0.97},{"T":"2450.0","r":8.5,"g":1.02},{"T":"2450.0","r":8.8,"g":1.05},{"T":"2450.0","r":9.1,"g":1.04},{"T":"2450.0","r":9.4,"g":1},{"T":"2450.0","r":9.7,"g":0.98},{"T":"2450.0","r":10,"g":0.97},
{"T":"2500.0","r":0,"g":0},{"T":"2500.0","r":1.95,"g":0},{"T":"2500.0","r":2,"g":0.03},{"T":"2500.0","r":2.05,"g":0.3},{"T":"2500.0","r":2.1,"g":0.68},{"T":"2500.0","r":2.15,"g":1.02},{"T":"2500.0","r":2.2,"g":1.3},{"T":"2500.0","r":2.3,"g":1.85},{"T":"2500.0","r":2.4,"g":2.17},{"T":"2500.0","r":2.45,"g":2.22},{"T":"2500.0","r":2.5,"g":2.19},{"T":"2500.0","r":2.55,"g":2.13},{"T":"2500.0","r":2.6,"g":2.04},{"T":"2500.0","r":2.7,"g":1.82},{"T":"2500.0","r":2.8,"g":1.6},{"T":"2500.0","r":2.9,"g":1.42},{"T":"2500.0","r":3,"g":1.22},{"T":"2500.0","r":3.1,"g":1.02},{"T":"2500.0","r":3.2,"g":0.81},{"T":"2500.0","r":3.3,"g":0.62},{"T":"2500.0","r":3.4,"g":0.52},{"T":"2500.0","r":3.5,"g":0.5},{"T":"2500.0","r":3.6,"g":0.54},{"T":"2500.0","r":3.8,"g":0.69},{"T":"2500.0","r":4,"g":0.85},{"T":"2500.0","r":4.2,"g":1.02},{"T":"2500.0","r":4.4,"g":1.17},{"T":"2500.0","r":4.6,"g":1.245},{"T":"2500.0","r":4.8,"g":1.23},{"T":"2500.0","r":5,"g":1.15},{"T":"2500.0","r":5.2,"g":1.02},{"T":"2500.0","r":5.4,"g":0.92},{"T":"2500.0","r":5.6,"g":0.85},{"T":"2500.0","r":5.8,"g":0.84},{"T":"2500.0","r":6,"g":0.89},{"T":"2500.0","r":6.2,"g":0.96},{"T":"2500.0","r":6.4,"g":1.04},{"T":"2500.0","r":6.6,"g":1.09},{"T":"2500.0","r":6.8,"g":1.1},{"T":"2500.0","r":7,"g":1.07},{"T":"2500.0","r":7.3,"g":1},{"T":"2500.0","r":7.6,"g":0.955},{"T":"2500.0","r":7.9,"g":0.95},{"T":"2500.0","r":8.2,"g":0.97},{"T":"2500.0","r":8.5,"g":1.015},{"T":"2500.0","r":8.8,"g":1.036},{"T":"2500.0","r":9.1,"g":1.03},{"T":"2500.0","r":9.4,"g":1.01},{"T":"2500.0","r":9.7,"g":0.99},{"T":"2500.0","r":10,"g":0.98},
{"T":"2550.0","r":0,"g":0},{"T":"2550.0","r":1.95,"g":0},{"T":"2550.0","r":2,"g":0.02},{"T":"2550.0","r":2.05,"g":0.24},{"T":"2550.0","r":2.1,"g":0.61},{"T":"2550.0","r":2.15,"g":0.94},{"T":"2550.0","r":2.2,"g":1.23},{"T":"2550.0","r":2.3,"g":1.79},{"T":"2550.0","r":2.4,"g":2.19},{"T":"2550.0","r":2.45,"g":2.3},{"T":"2550.0","r":2.5,"g":2.33},{"T":"2550.0","r":2.55,"g":2.28},{"T":"2550.0","r":2.6,"g":2.17},{"T":"2550.0","r":2.7,"g":1.9},{"T":"2550.0","r":2.8,"g":1.64},{"T":"2550.0","r":2.9,"g":1.42},{"T":"2550.0","r":3,"g":1.19},{"T":"2550.0","r":3.1,"g":0.96},{"T":"2550.0","r":3.2,"g":0.74},{"T":"2550.0","r":3.3,"g":0.56},{"T":"2550.0","r":3.4,"g":0.47},{"T":"2550.0","r":3.5,"g":0.46},{"T":"2550.0","r":3.6,"g":0.5},{"T":"2550.0","r":3.8,"g":0.67},{"T":"2550.0","r":4,"g":0.85},{"T":"2550.0","r":4.2,"g":1.05},{"T":"2550.0","r":4.4,"g":1.21},{"T":"2550.0","r":4.6,"g":1.26},{"T":"2550.0","r":4.8,"g":1.23},{"T":"2550.0","r":5,"g":1.14},{"T":"2550.0","r":5.2,"g":1.02},{"T":"2550.0","r":5.4,"g":0.9},{"T":"2550.0","r":5.6,"g":0.82},{"T":"2550.0","r":5.8,"g":0.8},{"T":"2550.0","r":6,"g":0.87},{"T":"2550.0","r":6.2,"g":0.97},{"T":"2550.0","r":6.4,"g":1.07},{"T":"2550.0","r":6.6,"g":1.12},{"T":"2550.0","r":6.8,"g":1.12},{"T":"2550.0","r":7,"g":1.07},{"T":"2550.0","r":7.3,"g":0.99},{"T":"2550.0","r":7.6,"g":0.94},{"T":"2550.0","r":7.9,"g":0.93},{"T":"2550.0","r":8.2,"g":0.97},{"T":"2550.0","r":8.5,"g":1.03},{"T":"2550.0","r":8.8,"g":1.055},{"T":"2550.0","r":9.1,"g":1.04},{"T":"2550.0","r":9.4,"g":1},{"T":"2550.0","r":9.7,"g":0.98},{"T":"2550.0","r":10,"g":0.97}
]},
"mark":{"type":"line","interpolate":"monotone","strokeWidth":2,"clip":true},
"encoding":{
"x":{"field":"r","type":"quantitative","scale":{"domain":[0,10],"nice":false,"zero":false},
"axis":{"title":"r (Angstrom)","values":[0,0.5,1,1.5,2,2.5,3,3.5,4,4.5,5,5.5,6,6.5,7,7.5,8,8.5,9,9.5],
"labelExpr":"indexof([0,2,4,6,8], datum.value) >= 0 ? toString(datum.value) : ''",
"gridOpacity":{"condition":{"test":"indexof([2,4,6,8], datum.value) >= 0","value":1},"value":0},
"gridColor":"#dcdcdc","gridWidth":1,"domainColor":"#222","domainWidth":1,"tickColor":"#444","tickSize":5,"labelFont":"Open Sans","labelFontSize":12,"labelColor":"#2a3f5f","labelPadding":3,
"titleFont":"Open Sans","titleFontSize":14,"titleFontWeight":"normal","titleColor":"#2a3f5f","titleX":304,"titleY":43,"titleBaseline":"middle"}},
"y":{"field":"g","type":"quantitative","scale":{"domain":[-0.163,3.046],"nice":false,"zero":false},
"axis":{"title":"g(r)","values":[-0.1,0,0.1,0.2,0.3,0.4,0.5,0.6,0.7,0.8,0.9,1,1.1,1.2,1.3,1.4,1.5,1.6,1.7,1.8,1.9,2,2.1,2.2,2.3,2.4,2.5,2.6,2.7,2.8,2.9,3],
"labelExpr":"indexof([0,0.5,1,1.5,2,2.5,3], datum.value) >= 0 ? toString(datum.value) : ''",
"gridOpacity":{"condition":{"test":"indexof([0,0.5,1,1.5,2,2.5,3], datum.value) >= 0","value":1},"value":0},
"gridColor":{"condition":{"test":"datum.value == 0","value":"#c8c8c8"},"value":"#dcdcdc"},
"gridWidth":{"condition":{"test":"datum.value == 0","value":2},"value":1},
"domainColor":"#222","domainWidth":1,"tickColor":"#444","tickSize":5,"labelFont":"Open Sans","labelFontSize":12,"labelColor":"#2a3f5f","labelPadding":3,
"titleFont":"Open Sans","titleFontSize":14,"titleFontWeight":"normal","titleColor":"#2a3f5f","titleX":-58,"titleY":210,"titleAngle":-90,"titleBaseline":"middle","titleAlign":"center"}},
"color":{"field":"T","type":"nominal","sort":null,
"scale":{"domain":["1500.0","1550.0","1600.0","1650.0","1700.0","1750.0","1800.0","1850.0","1900.0","1950.0","2000.0","2050.0","2100.0","2150.0","2200.0","2250.0","2300.0","2350.0","2400.0","2450.0","2500.0","2550.0"],
"range":["#000000","#0000ff","#ff0000","#00ffff","#ff00ff","#edc240","#ffa500","#808080","#008000","#a52a2a","#000000","#0000ff","#ff0000","#00ffff","#ff00ff","#edc240","#ffa500","#808080","#008000","#a52a2a","#000000","#0000ff"]},
"legend":{"title":null,"orient":"none","legendX":625,"legendY":6,"symbolType":"stroke","symbolSize":900,"symbolStrokeWidth":2,"labelFont":"Open Sans","labelFontSize":12,"labelColor":"#2a3f5f","labelOffset":5,"rowPadding":2,"clipHeight":17,"padding":0}},
"strokeDash":{"field":"T","type":"nominal","sort":null,
"scale":{"domain":["1500.0","1550.0","1600.0","1650.0","1700.0","1750.0","1800.0","1850.0","1900.0","1950.0","2000.0","2050.0","2100.0","2150.0","2200.0","2250.0","2300.0","2350.0","2400.0","2450.0","2500.0","2550.0"],
"range":[[1,0],[1,0],[1,0],[1,0],[1,0],[1,0],[1,0],[1,0],[1,0],[1,0],[9,9],[9,9],[9,9],[9,9],[9,9],[9,9],[9,9],[9,9],[9,9],[9,9],[3,3],[3,3]]},
"legend":{"title":null,"orient":"none","legendX":625,"legendY":6,"symbolType":"stroke","symbolSize":900,"symbolStrokeWidth":2,"labelFont":"Open Sans","labelFontSize":12,"labelColor":"#2a3f5f","labelOffset":5,"rowPadding":2,"clipHeight":17,"padding":0}}
}
}
